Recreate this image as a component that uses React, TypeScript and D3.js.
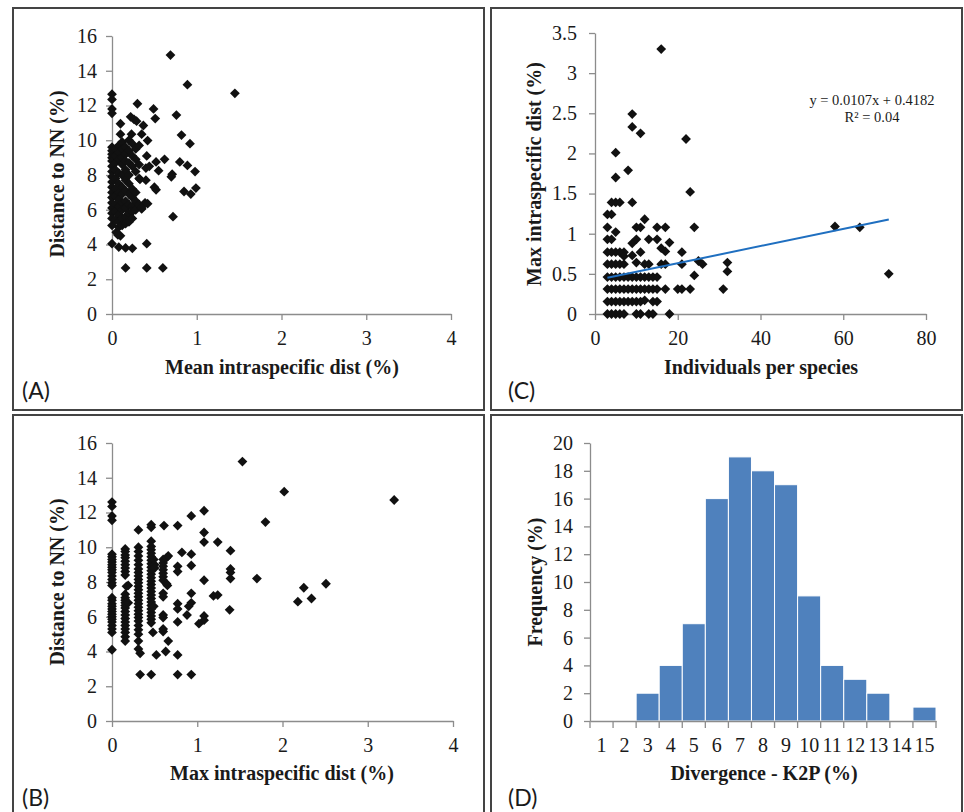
import React, { useRef, useEffect } from "react";
import * as d3 from "d3";

// (A) mean intraspecific dist vs distance to NN
const meanVsNN: [number, number][] = [
  [0.69, 14.9], [0.89, 13.2], [1.45, 12.7],
  [0, 12.65], [0, 12.35], [0, 11.8], [0, 11.55],
  [0.3, 12.1], [0.49, 11.8], [0.51, 11.25], [0.76, 11.45],
  [0.22, 11.35], [0.26, 11.2], [0.29, 11.1], [0.1, 10.95], [0.37, 10.85],
  [0.1, 10.35], [0.23, 10.35], [0.35, 10.35], [0.82, 10.3], [0.42, 9.98], [0.92, 9.8],
  [0.62, 8.9], [0.52, 8.75], [0.8, 8.75], [0.89, 8.55], [0.55, 8.25], [0.98, 8.2],
  [0.71, 8.05], [0.7, 7.9], [0.5, 7.3], [0.52, 7.15], [0.99, 7.25], [0.85, 7.05], [0.93, 6.9],
  [0.72, 5.6], [0.41, 9.1], [0.4, 8.4], [0.44, 8.5], [0.33, 7.75], [0.4, 7.7],
  [0.39, 6.4], [0.35, 6.05], [0.42, 6.35],
  [0, 4.05], [0.1, 4.5], [0.08, 3.85], [0.16, 3.8], [0.24, 3.78], [0.41, 4.05],
  [0.16, 2.65], [0.41, 2.65], [0.6, 2.65], [0, 5.1], [0.05, 4.7], [0.07, 4.55],
  [0, 9.6], [0, 9.4], [0, 9.2], [0, 9.0], [0, 8.8], [0, 8.5], [0, 8.2], [0, 7.9], [0, 7.6],
  [0, 7.3], [0, 7.0], [0, 6.7], [0, 6.4], [0, 6.1], [0, 5.8], [0, 5.5],
  [0.04, 9.5], [0.04, 9.1], [0.04, 8.7], [0.04, 8.3], [0.04, 7.8], [0.04, 7.2], [0.04, 6.8],
  [0.04, 6.3], [0.04, 5.9], [0.04, 5.4],
  [0.08, 9.7], [0.08, 9.3], [0.08, 8.9], [0.08, 8.1], [0.08, 7.5], [0.08, 7.0], [0.08, 6.6],
  [0.08, 6.2], [0.08, 5.7], [0.08, 5.3], [0.08, 5.0],
  [0.12, 9.9], [0.12, 9.5], [0.12, 9.0], [0.12, 8.6], [0.12, 8.0], [0.12, 7.3], [0.12, 6.9],
  [0.12, 6.4], [0.12, 6.0], [0.12, 5.5], [0.12, 5.1],
  [0.16, 9.6], [0.16, 9.2], [0.16, 8.8], [0.16, 8.3], [0.16, 7.7], [0.16, 7.1], [0.16, 6.5],
  [0.16, 6.1], [0.16, 5.6], [0.16, 5.2],
  [0.2, 10.0], [0.2, 9.4], [0.2, 8.7], [0.2, 8.0], [0.2, 7.5], [0.2, 6.9], [0.2, 6.3], [0.2, 5.8], [0.2, 5.3],
  [0.24, 9.8], [0.24, 9.1], [0.24, 8.5], [0.24, 7.2], [0.24, 6.7], [0.24, 6.2], [0.24, 5.9], [0.24, 5.5],
  [0.28, 9.5], [0.28, 8.9], [0.28, 8.2], [0.28, 7.0], [0.28, 6.5], [0.28, 6.0],
  [0.32, 9.7], [0.32, 8.6], [0.32, 7.8], [0.32, 6.3], [0.35, 6.1],
];

// (B) max intraspecific dist vs distance to NN
const maxVsNN: [number, number][] = [
  [0, 12.6], [0, 12.35], [0, 11.8], [0, 11.55], [0, 9.6], [0, 9.45], [0, 9.3], [0, 9.15], [0, 9.0],
  [0, 8.85], [0, 8.7], [0, 8.55], [0, 8.35], [0, 8.15], [0, 7.95], [0, 7.8], [0, 7.1], [0, 6.95],
  [0, 6.75], [0, 6.6], [0, 6.45], [0, 6.3], [0, 6.15], [0, 6.0], [0, 5.85], [0, 5.7], [0, 5.5],
  [0, 5.3], [0, 5.1], [0, 4.1],
  [0.155, 9.9], [0.155, 9.75], [0.155, 9.55], [0.155, 9.4], [0.155, 9.2], [0.155, 9.0], [0.155, 8.8],
  [0.155, 8.6], [0.155, 8.4], [0.155, 7.3], [0.155, 7.1], [0.155, 6.95], [0.155, 6.8], [0.155, 6.65],
  [0.155, 6.5], [0.155, 6.3], [0.155, 6.1], [0.155, 5.9], [0.155, 5.7], [0.155, 5.5], [0.155, 5.3],
  [0.155, 5.1], [0.155, 4.85], [0.155, 4.6], [0.19, 7.8], [0.17, 7.75], [0.19, 6.8],
  [0.31, 11.0], [0.31, 10.0], [0.31, 9.75], [0.31, 9.5], [0.31, 9.25], [0.31, 9.0], [0.31, 8.75],
  [0.31, 8.55], [0.31, 8.35], [0.31, 8.15], [0.31, 7.95], [0.31, 7.75], [0.31, 7.55], [0.31, 7.35],
  [0.31, 7.15], [0.31, 6.95], [0.31, 6.75], [0.31, 6.55], [0.31, 6.35], [0.31, 6.15], [0.31, 5.95],
  [0.31, 5.75], [0.31, 5.5], [0.31, 5.25], [0.31, 5.0], [0.31, 4.6], [0.31, 4.15], [0.33, 3.9],
  [0.33, 2.67],
  [0.46, 11.3], [0.46, 11.15], [0.46, 10.35], [0.46, 10.05], [0.46, 9.85], [0.46, 9.65], [0.46, 9.45],
  [0.46, 9.25], [0.46, 9.05], [0.46, 8.85], [0.46, 8.65], [0.46, 8.45], [0.46, 8.25], [0.46, 8.05],
  [0.46, 7.85], [0.46, 7.65], [0.46, 7.45], [0.46, 7.25], [0.46, 7.05], [0.46, 6.85], [0.46, 6.65],
  [0.46, 6.45], [0.46, 6.25], [0.46, 6.05], [0.46, 5.85], [0.46, 5.65], [0.48, 5.1], [0.46, 2.67],
  [0.49, 9.3], [0.5, 9.0], [0.5, 8.8], [0.49, 6.6], [0.52, 3.8],
  [0.61, 11.25], [0.6, 9.3], [0.6, 9.1], [0.6, 8.9], [0.6, 8.7], [0.6, 8.5], [0.6, 8.3], [0.6, 8.1],
  [0.6, 7.35], [0.6, 7.15], [0.6, 6.1], [0.6, 5.95], [0.6, 5.3], [0.6, 5.15],
  [0.64, 9.4], [0.66, 9.5], [0.64, 7.9], [0.65, 7.8], [0.63, 4.0], [0.66, 4.6],
  [0.77, 11.25], [0.82, 9.7], [0.77, 8.9], [0.77, 8.6], [0.77, 6.75], [0.77, 6.45], [0.77, 5.7],
  [0.77, 3.8], [0.77, 2.67],
  [0.93, 11.8], [0.93, 9.6], [0.93, 8.95], [0.93, 7.35], [0.93, 6.8], [0.9, 6.6], [0.88, 6.1], [0.93, 2.67],
  [1.08, 12.1], [1.08, 10.85], [1.08, 10.3], [1.08, 8.1], [1.08, 6.05], [1.08, 5.8], [1.02, 5.6],
  [1.19, 7.2], [1.24, 7.25], [1.24, 10.3],
  [1.39, 9.8], [1.39, 8.75], [1.39, 8.55], [1.39, 8.2], [1.38, 6.4],
  [1.53, 14.93], [1.7, 8.2], [1.8, 11.45], [2.02, 13.2], [2.18, 6.87], [2.25, 7.67], [2.34, 7.05],
  [2.51, 7.9], [3.31, 12.72],
];

// (C) individuals per species vs max intraspecific dist
const individualsVsMax: [number, number][] = [
  [3, 0], [4, 0], [5, 0], [6, 0], [7, 0], [10, 0], [11, 0], [13, 0], [14, 0], [18, 0],
  [3, 0.155], [4, 0.155], [5, 0.155], [6, 0.155], [7, 0.155], [8, 0.155], [9, 0.155], [10, 0.155],
  [11, 0.155], [12, 0.17], [14, 0.155], [15, 0.155],
  [3, 0.31], [4, 0.31], [5, 0.31], [6, 0.31], [7, 0.31], [8, 0.31], [9, 0.31], [10, 0.31], [11, 0.31],
  [12, 0.31], [13, 0.31], [14, 0.31], [15, 0.31], [17, 0.31], [20, 0.31], [21, 0.31], [23, 0.31], [31, 0.31],
  [3, 0.46], [4, 0.46], [5, 0.46], [6, 0.46], [7, 0.46], [8, 0.46], [9, 0.46], [10, 0.46], [11, 0.46],
  [12, 0.46], [13, 0.46], [14, 0.46], [15, 0.46], [24, 0.48], [71, 0.5],
  [3, 0.62], [4, 0.62], [5, 0.62], [6, 0.62], [7, 0.62], [10, 0.64], [12, 0.62], [13, 0.62], [16, 0.62],
  [17, 0.62], [21, 0.62], [25, 0.66], [26, 0.62], [32, 0.64], [32, 0.53],
  [3, 0.77], [4, 0.77], [5, 0.77], [6, 0.77], [7, 0.77], [7, 0.72], [11, 0.77], [9, 0.73], [16, 0.82],
  [17, 0.78], [21, 0.77],
  [3, 0.93], [4, 0.93], [9, 0.88], [10, 0.93], [13, 0.93], [15, 0.93], [18, 0.89], [5, 1.02],
  [3, 1.08], [10, 1.08], [11, 1.08], [15, 1.08], [17, 1.08], [24, 1.08], [58, 1.09], [64, 1.08],
  [12, 1.18], [3, 1.24], [4, 1.24], [4, 1.39], [5, 1.39], [6, 1.39], [9, 1.39],
  [23, 1.52], [5, 1.7], [8, 1.79], [5, 2.01], [22, 2.18], [11, 2.25], [9, 2.33], [9, 2.49], [16, 3.3],
];
const trendSlope = 0.0107;
const trendIntercept = 0.4182;
const trendRange = [3, 71];

// (D) histogram of divergence
const divergenceBins = ["1", "2", "3", "4", "5", "6", "7", "8", "9", "10", "11", "12", "13", "14", "15"];
const divergenceFreq = [0, 0, 2, 4, 7, 16, 19, 18, 17, 9, 4, 3, 2, 0, 1];

const SERIF = "'Liberation Serif', 'Times New Roman', serif";
const AXIS_GREY = "#8c8c8c";

const styleAxis = (g) => {
  g.select(".domain").attr("stroke", AXIS_GREY).attr("stroke-width", 1.3);
  g.selectAll(".tick line").attr("stroke", AXIS_GREY).attr("stroke-width", 1.3);
  g.selectAll(".tick text")
    .attr("fill", "#1a1a1a")
    .style("font-family", SERIF)
    .style("font-size", "20px");
};

const addTitles = (svg, p) => {
  svg.append("text")
    .attr("x", p.xTitle[0]).attr("y", p.xTitle[1])
    .attr("text-anchor", "middle")
    .style("font-family", SERIF).style("font-size", "20px").style("font-weight", "bold")
    .attr("fill", "#1a1a1a")
    .text(p.xLabel);
  svg.append("text")
    .attr("transform", `translate(${p.yTitle[0]},${p.yTitle[1]}) rotate(-90)`)
    .attr("text-anchor", "middle")
    .style("font-family", SERIF).style("font-size", "20px").style("font-weight", "bold")
    .attr("fill", "#1a1a1a")
    .text(p.yLabel);
  svg.append("text")
    .attr("x", p.tag[0]).attr("y", p.tag[1])
    .style("font-family", "Lato, 'Open Sans', sans-serif").style("font-size", "23px")
    .attr("fill", "#1a1a1a")
    .text(p.tagText);
};

const drawScatter = (svg, p) => {
  const x = d3.scaleLinear().domain(p.xDomain).range([p.left, p.right]);
  const y = d3.scaleLinear().domain(p.yDomain).range([p.bottom, p.top]);

  svg.append("g")
    .attr("transform", `translate(${p.left},0)`)
    .call(d3.axisLeft(y).tickValues(p.yTicks).tickFormat(d3.format("~g")).tickSize(6).tickSizeOuter(0).tickPadding(p.yPad))
    .call(styleAxis);
  svg.append("g")
    .attr("transform", `translate(0,${p.bottom})`)
    .call(d3.axisBottom(x).tickValues(p.xTicks).tickFormat(d3.format("~g")).tickSize(6).tickSizeOuter(0).tickPadding(11))
    .call(styleAxis);

  const diamond = d3.symbol().type(d3.symbolSquare).size(48);
  svg.append("g")
    .selectAll("path")
    .data(p.points)
    .enter()
    .append("path")
    .attr("d", diamond)
    .attr("transform", (d) => `translate(${x(d[0])},${y(d[1])}) rotate(45)`)
    .attr("fill", "#111");

  addTitles(svg, p);
  return { x, y };
};

const App = () => {
  const svgRef = useRef(null);

  useEffect(() => {
    const svg = d3.select(svgRef.current);
    svg.selectAll("*").remove();

    // panel frames
    const frames = [
      [13, 8, 471, 402],
      [491, 8, 471, 402],
      [13, 415, 471, 410],
      [491, 415, 471, 410],
    ];
    svg.append("g")
      .selectAll("rect")
      .data(frames)
      .enter()
      .append("rect")
      .attr("x", (d) => d[0]).attr("y", (d) => d[1])
      .attr("width", (d) => d[2]).attr("height", (d) => d[3])
      .attr("fill", "none").attr("stroke", "#444").attr("stroke-width", 2);

    // (A)
    drawScatter(svg, {
      points: meanVsNN,
      left: 112, right: 451, top: 36, bottom: 314,
      xDomain: [0, 4], yDomain: [0, 16],
      xTicks: [0, 1, 2, 3, 4], yTicks: [0, 2, 4, 6, 8, 10, 12, 14, 16], yPad: 9,
      xLabel: "Mean intraspecific dist (%)", yLabel: "Distance to NN (%)",
      xTitle: [282, 374], yTitle: [64, 174], tag: [22, 399], tagText: "(A)",
    });

    // (B)
    drawScatter(svg, {
      points: maxVsNN,
      left: 112, right: 453, top: 443, bottom: 721,
      xDomain: [0, 4], yDomain: [0, 16],
      xTicks: [0, 1, 2, 3, 4], yTicks: [0, 2, 4, 6, 8, 10, 12, 14, 16], yPad: 9,
      xLabel: "Max intraspecific dist (%)", yLabel: "Distance to NN (%)",
      xTitle: [282, 780], yTitle: [64, 582], tag: [22, 806], tagText: "(B)",
    });

    // (C)
    const c = drawScatter(svg, {
      points: individualsVsMax,
      left: 595, right: 926, top: 33, bottom: 314,
      xDomain: [0, 80], yDomain: [0, 3.5],
      xTicks: [0, 20, 40, 60, 80], yTicks: [0, 0.5, 1, 1.5, 2, 2.5, 3, 3.5], yPad: 12,
      xLabel: "Individuals per species", yLabel: "Max intraspecific dist (%)",
      xTitle: [761, 374], yTitle: [541, 174], tag: [508, 399], tagText: "(C)",
    });
    const trend = d3.line()
      .x((d) => c.x(d))
      .y((d) => c.y(trendSlope * d + trendIntercept));
    svg.append("path")
      .datum(trendRange)
      .attr("d", trend)
      .attr("fill", "none")
      .attr("stroke", "#1f6fc0")
      .attr("stroke-width", 2);
    const eq = svg.append("text")
      .attr("text-anchor", "middle")
      .style("font-family", SERIF).style("font-size", "14.5px")
      .attr("fill", "#1a1a1a");
    eq.append("tspan").attr("x", 872).attr("y", 105).text("y = 0.0107x + 0.4182");
    eq.append("tspan").attr("x", 872).attr("y", 122).text("R² = 0.04");

    // (D) histogram
    const left = 590, right = 936, top = 443, bottom = 721;
    const xb = d3.scaleBand().domain(divergenceBins).range([left, right]).padding(0);
    const yb = d3.scaleLinear().domain([0, 20]).range([bottom, top]);

    svg.append("g")
      .selectAll("rect")
      .data(divergenceFreq)
      .enter()
      .append("rect")
      .attr("x", (_, i) => xb(divergenceBins[i]))
      .attr("y", (d) => yb(d))
      .attr("width", xb.bandwidth())
      .attr("height", (d) => bottom - yb(d))
      .attr("fill", "#4f81bd")
      .attr("stroke", "#fff")
      .attr("stroke-width", 1);

    svg.append("g")
      .attr("transform", `translate(${left},0)`)
      .call(d3.axisLeft(yb).tickValues(d3.range(0, 21, 2)).tickSize(6).tickSizeOuter(0).tickPadding(11))
      .call(styleAxis);
    svg.append("g")
      .attr("transform", `translate(0,${bottom})`)
      .call(d3.axisBottom(xb).tickSize(0).tickSizeOuter(0).tickPadding(17))
      .call(styleAxis);
    // tick marks at bin edges
    const edges = divergenceBins.map((b) => xb(b)).concat([right]);
    svg.append("g")
      .selectAll("line")
      .data(edges)
      .enter()
      .append("line")
      .attr("x1", (d) => d).attr("x2", (d) => d)
      .attr("y1", bottom).attr("y2", bottom + 7)
      .attr("stroke", AXIS_GREY).attr("stroke-width", 1.3);

    addTitles(svg, {
      xLabel: "Divergence - K2P (%)", yLabel: "Frequency (%)",
      xTitle: [764, 780], yTitle: [542, 582], tag: [508, 806], tagText: "(D)",
    });
  }, []);

  return (
    <div style={{ position: "absolute", left: 0, top: 0, width: 964, height: 812, background: "#fff" }}>
      <svg ref={svgRef} width={964} height={812} style={{ display: "block" }}></svg>
    </div>
  );
};

export default App;
